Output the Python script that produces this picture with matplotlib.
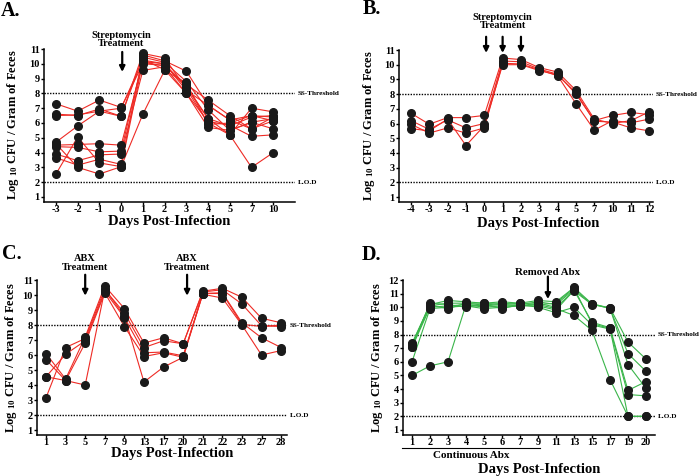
import numpy as np
import matplotlib
matplotlib.use("Agg")
from matplotlib import pyplot as plt
from matplotlib import transforms

# Fonts: Times-like bold everywhere
plt.rcParams['font.family'] = ['Liberation Serif', 'DejaVu Serif']
plt.rcParams['font.weight'] = 'bold'
plt.rcParams['mathtext.fontset'] = 'custom'
plt.rcParams['mathtext.rm'] = 'Liberation Serif:bold'
plt.rcParams['mathtext.bf'] = 'Liberation Serif:bold'
plt.rcParams['mathtext.it'] = 'Liberation Serif:bold:italic'

RED = '#ee2b25'
GREEN = '#3ab54a'

# ---------------- data ----------------
days_a = ['-3', '-2', '-1', '0', '1', '2', '3', '4', '5', '7', '10']
mice_a = [
    [7.3, 6.8, 7.55, 7.05, 10.0, 9.9, 8.5, 6.3, 5.8, 6.4, 6.5],
    [6.6, 6.5, 6.95, 6.45, 10.45, 10.1, 8.8, 6.9, 5.5, 6.05, 6.3],
    [6.5, 6.55, 6.8, 7.0, 10.25, 10.0, 8.2, 7.2, 6.2, 6.5, 6.15],
    [4.7, 5.8, 6.8, 6.45, 10.7, 10.4, 8.3, 6.0, 5.2, 7.0, 6.75],
    [4.5, 4.55, 4.6, 4.5, 10.1, 9.85, 8.6, 7.55, 6.5, 5.6, 6.4],
    [4.4, 4.35, 4.05, 4.1, 10.3, 9.6, 8.0, 6.1, 5.85, 5.1, 5.2],
    [3.9, 3.45, 3.85, 3.9, 9.55, 9.8, 8.0, 5.7, 5.5, 6.05, 5.6],
    [3.65, 3.15, 3.55, 3.2, 10.6, 10.2, 9.5, 7.2, 6.2, 5.6, 6.15],
    [2.55, 5.05, 3.3, 3.05, 10.15, 10.0, 8.4, 6.3, 5.2, 3.0, 4.0],
    [4.6, 3.0, 2.55, 3.05, 6.6, 9.55, 8.7, 5.9, 6.0, 6.5, 6.4],
]

days_b = ['-4', '-3', '-2', '-1', '0', '1', '2', '3', '4', '5', '7', '10', '11', '12']
mice_b = [
    [6.7, 5.95, 6.4, 6.4, 6.55, 10.45, 10.35, 9.8, 9.5, 8.25, 6.3, 6.0, 6.2, 6.8],
    [6.2, 5.6, 6.25, 5.7, 6.0, 10.25, 10.2, 9.7, 9.35, 8.0, 6.2, 6.55, 6.75, 6.6],
    [5.95, 5.35, 5.7, 5.35, 5.7, 10.1, 10.05, 9.65, 9.25, 7.35, 5.55, 6.2, 6.05, 6.3],
    [5.65, 5.5, 6.3, 4.5, 5.85, 10.0, 10.0, 9.6, 9.3, 8.1, 6.15, 6.1, 5.7, 5.5],
]

days_c = ['1', '3', '5', '7', '9', '13', '17', '20', '21', '22', '23', '27', '28']
mice_c = [
    [6.1, 4.4, 7.2, 10.6, 9.1, 6.8, 7.15, 6.75, 10.25, 10.45, 9.85, 8.45, 8.15],
    [5.7, 4.3, 4.0, 10.35, 8.8, 6.5, 6.95, 6.75, 10.2, 10.35, 9.4, 7.95, 7.9],
    [4.55, 6.05, 6.95, 10.25, 8.5, 6.15, 6.2, 5.95, 10.1, 10.15, 8.15, 7.15, 6.5],
    [4.55, 4.3, 6.8, 10.15, 7.9, 5.9, 6.15, 5.85, 10.05, 9.8, 8.0, 6.0, 6.3],
    [3.15, 6.5, 7.1, 10.4, 8.6, 4.2, 5.2, 5.85, 10.1, 10.1, 8.05, 7.9, 8.0],
]

days_d = ['1', '2', '3', '4', '5', '6', '7', '9', '11', '13', '15', '17', '19', '20']
mice_d = [
    [7.35, 10.2, 10.5, 10.4, 10.3, 10.4, 10.3, 10.5, 10.4, 11.45, 10.25, 9.95, 7.45, 6.2],
    [7.2, 10.1, 10.3, 10.3, 10.15, 10.3, 10.2, 10.4, 10.2, 11.3, 10.25, 9.9, 6.6, 5.3],
    [7.05, 10.0, 10.1, 10.2, 10.0, 10.1, 10.1, 10.3, 10.0, 11.2, 10.2, 9.95, 5.8, 4.05],
    [6.0, 9.9, 10.0, 10.1, 9.9, 10.0, 10.1, 10.1, 9.8, 11.25, 8.9, 8.5, 3.9, 4.55],
    [7.1, 10.3, 10.2, 10.0, 10.2, 9.9, 10.2, 10.0, 9.6, 10.0, 8.7, 8.4, 3.6, 3.5],
    [5.0, 5.7, 6.0, 10.2, 10.1, 10.2, 10.1, 10.2, 9.9, 9.4, 8.3, 4.7, 2.0, 2.0],
    [7.3, 10.15, 9.9, 10.3, 10.3, 10.2, 10.3, 10.2, 10.3, 11.4, 8.8, 8.45, 2.0, 2.0],
]

SS_THRESHOLD = 8
LOD = 2

W, H = 700, 476


def rect(left, top, right, bottom):
    # pixel box -> figure fraction
    return [left / W, 1 - bottom / H, (right - left) / W, (bottom - top) / H]


def fx(x, y):
    return x / W, 1 - y / H


def panel(fig, box, days, mice, color, ylim, xlim, ymax_tick):
    ax = fig.add_axes(rect(*box))
    x = np.arange(len(days))
    for m in mice:
        ax.plot(x, m, color=color, lw=0.8, zorder=2, clip_on=False)
    for m in mice:
        ax.plot(x, m, 'o', color='#1a1a1a', ms=5.5, zorder=3, clip_on=False)
    ax.set_xticks(x)
    ax.set_xticklabels(days)
    ax.set_yticks(range(1, ymax_tick + 1))
    ax.set_xlim(*xlim)
    ax.set_ylim(*ylim)
    for s in ['top', 'right']:
        ax.spines[s].set_visible(False)
    for s in ['left', 'bottom']:
        ax.spines[s].set_linewidth(1.1)
    ax.tick_params(axis='both', labelsize=7.5, length=2, width=1, pad=1)
    ax.tick_params(axis='x', pad=0.5)
    ax.spines['left'].set_bounds(ylim[0], ymax_tick)
    trans = transforms.blended_transform_factory(ax.transAxes, ax.transData)
    for yv, lab in [(SS_THRESHOLD, 'SS-Threshold'), (LOD, 'L.O.D')]:
        ax.axhline(yv, color='black', lw=1.0, ls=(0, (1, 1)), zorder=1)
        ax.text(1.01, yv, lab, transform=trans, fontsize=5.2, va='center', ha='left')
    return ax


def arrow(ax, x, y0, y1):
    ax.annotate('', xy=(x, y1), xytext=(x, y0), annotation_clip=False,
                arrowprops=dict(arrowstyle='-|>', color='black', lw=1.6,
                                mutation_scale=8, shrinkA=0, shrinkB=0))


fig = plt.figure(figsize=(7, 4.76), dpi=100)

# Panel A
axA = panel(fig, (44, 49, 295, 202), days_a, mice_a, RED, (0.66, 11), (-0.55, 11.0), 11)
arrow(axA, 3.05, 10.8, 9.45)
axA.text(3.0, 11.65, 'Streptomycin\nTreatment', ha='center', va='center',
         fontsize=7.5, linespacing=0.95)

# Panel B
axB = panel(fig, (399, 50, 653, 202), days_b, mice_b, RED, (0.66, 11), (-0.65, 13.2), 11)
for xa in [4.1, 5.0, 6.0]:
    arrow(axB, xa, 11.9, 10.8)
axB.text(5.0, 12.95, 'Streptomycin\nTreatment', ha='center', va='center',
         fontsize=7.5, linespacing=0.95)

# Panel C
axC = panel(fig, (37, 280, 287, 435), days_c, mice_c, RED, (0.67, 11), (-0.46, 12.3), 11)
for xa in [2.0, 7.2]:
    arrow(axC, xa, 11.35, 9.95)
    axC.text(xa, 12.12, 'ABX\nTreatment', ha='center', va='center',
             fontsize=7.5, linespacing=0.95)

# Panel D
axD = panel(fig, (403, 280, 655, 435), days_d, mice_d, GREEN, (0.63, 12), (-0.5, 13.5), 12)
arrow(axD, 7.55, 12.25, 10.6)
axD.text(7.55, 12.55, 'Removed Abx', ha='center', va='center', fontsize=7.8)
tD = transforms.blended_transform_factory(axD.transData, axD.transAxes)
axD.plot([-0.55, 7.1], [-0.085, -0.085], color='black', lw=0.8,
         transform=tD, clip_on=False)
axD.text(3.3, -0.13, 'Continuous Abx', transform=tD, ha='center', va='center',
         fontsize=8)

# Axis labels
ylab = r'Log $_{10}$ CFU / Gram of Feces'
for (x, y) in [(13, 124), (369, 125), (11, 357), (377, 357)]:
    fig.text(*fx(x, y), ylab, rotation=90, ha='center', va='center', fontsize=9)
for (x, y) in [(169, 222), (538, 223), (172, 453), (539, 469)]:
    fig.text(*fx(x, y), 'Days Post-Infection', ha='center', va='center', fontsize=10.5)

# Panel letters
for lab, (x, y) in [('A.', (11, 11)), ('B.', (372, 9)), ('C.', (12, 254)), ('D.', (371, 255))]:
    fig.text(*fx(x, y), lab, ha='center', va='center', fontsize=14.5)

fig.savefig('out.png', dpi=100)
